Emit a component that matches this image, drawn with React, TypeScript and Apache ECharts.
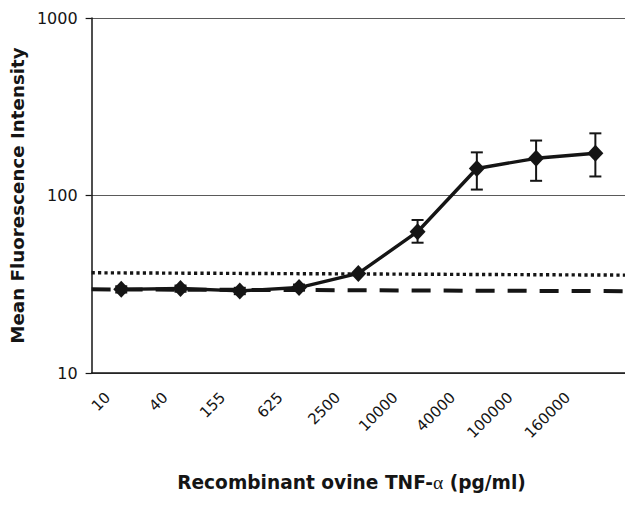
import React, { useEffect, useRef } from "react";
import * as echarts from "echarts";

const categories = ["10", "40", "155", "625", "2500", "10000", "40000", "100000", "160000"];
const meanValues = [29.6, 29.9, 29.0, 30.3, 36.4, 62.5, 142, 162, 173];
const errorLow = [28.4, 28.7, 27.8, 29.1, 36.4, 54.2, 108, 121, 128];
const errorHigh = [30.8, 31.1, 30.2, 31.5, 36.4, 72.8, 175, 204, 224];
const referenceX = [0, 1];
const dottedLine = [36.7, 35.6];
const dashedLine = [29.6, 28.9];
const yTicks = [10, 100, 1000];

const FONT = "'DejaVu Sans', Verdana, sans-serif";
const INK = "#151515";

export default function App() {
  const ref = useRef<HTMLDivElement>(null);
  useEffect(() => {
    if (!ref.current) return;
    const chart = echarts.init(ref.current, undefined, { renderer: "svg" });
    const option: any = {
      animation: false,
      backgroundColor: "#ffffff",
      grid: [
        { left: 91.6, width: 541.8, top: 18, height: 355 },
        { left: 79, width: 517.5, top: 18, height: 355 },
      ],
      xAxis: [
        {
          type: "category",
          gridIndex: 0,
          data: categories,
          boundaryGap: true,
          axisLine: { show: true, lineStyle: { color: INK, width: 1.5 } },
          axisTick: { show: false },
          axisLabel: { show: false },
          splitLine: { show: false },
          z: 5,
        },
        {
          type: "category",
          gridIndex: 1,
          data: categories,
          boundaryGap: true,
          axisLine: { show: false },
          axisTick: { show: false },
          axisLabel: {
            show: true,
            interval: 0,
            rotate: 45,
            margin: 22,
            fontSize: 15,
            fontFamily: FONT,
            color: INK,
          },
          splitLine: { show: false },
        },
        {
          type: "value",
          gridIndex: 0,
          min: 0,
          max: 1,
          show: false,
        },
      ],
      yAxis: [
        {
          type: "log",
          gridIndex: 0,
          logBase: 10,
          min: yTicks[0],
          max: yTicks[yTicks.length - 1],
          name: "Mean Fluorescence Intensity",
          nameLocation: "middle",
          nameRotate: 90,
          nameGap: 61,
          nameTextStyle: { fontSize: 18.3, fontWeight: "bold", fontFamily: FONT, color: INK },
          axisLine: { show: true, lineStyle: { color: INK, width: 1.5 } },
          axisTick: { show: true, inside: false, length: 6, lineStyle: { color: INK, width: 1.2 } },
          axisLabel: {
            fontSize: 16,
            fontFamily: FONT,
            color: INK,
            margin: 14,
            formatter: (v: number) => String(Math.round(v)),
          },
          minorTick: { show: false },
          splitLine: { show: true, lineStyle: { color: "#5a5a5a", width: 1 } },
        },
        { type: "value", gridIndex: 1, show: false },
      ],
      series: [
        {
          type: "line",
          name: "dotted",
          xAxisIndex: 2,
          yAxisIndex: 0,
          data: referenceX.map((x, i) => [x, dottedLine[i]]),
          showSymbol: false,
          symbol: "none",
          lineStyle: { color: INK, width: 3.4, type: [3.2, 3.2], cap: "butt" },
          z: 2,
        },
        {
          type: "line",
          name: "dashed",
          xAxisIndex: 2,
          yAxisIndex: 0,
          data: referenceX.map((x, i) => [x, dashedLine[i]]),
          showSymbol: false,
          symbol: "none",
          lineStyle: { color: INK, width: 4, type: [19, 13], cap: "butt" },
          z: 2,
        },
        {
          type: "custom",
          name: "error",
          xAxisIndex: 0,
          yAxisIndex: 0,
          data: categories.map((_, i) => [i, errorLow[i], errorHigh[i]]),
          encode: { x: 0, y: [1, 2] },
          renderItem: (params: any, api: any) => {
            const idx = api.value(0);
            const lo = api.coord([idx, api.value(1)]);
            const hi = api.coord([idx, api.value(2)]);
            const hw = 6;
            const style = { stroke: INK, lineWidth: 2, fill: "none" };
            return {
              type: "group",
              children: [
                { type: "line", shape: { x1: lo[0], y1: lo[1], x2: hi[0], y2: hi[1] }, style },
                { type: "line", shape: { x1: lo[0] - hw, y1: lo[1], x2: lo[0] + hw, y2: lo[1] }, style },
                { type: "line", shape: { x1: hi[0] - hw, y1: hi[1], x2: hi[0] + hw, y2: hi[1] }, style },
              ],
            };
          },
          z: 3,
        },
        {
          type: "line",
          name: "MFI",
          xAxisIndex: 0,
          yAxisIndex: 0,
          data: meanValues,
          symbol: "diamond",
          symbolSize: [16, 17],
          showSymbol: true,
          itemStyle: { color: INK },
          lineStyle: { color: INK, width: 3.4 },
          z: 4,
        },
      ],
      graphic: [
        {
          type: "text",
          x: 351.5,
          y: 482,
          style: {
            text: "{b|Recombinant ovine TNF-}{a|α}{b| (pg/ml)}",
            align: "center",
            verticalAlign: "middle",
            rich: {
              b: { fontSize: 18.6, fontWeight: "bold", fontFamily: FONT, fill: INK },
              a: { fontSize: 19.5, fontWeight: "normal", fontFamily: "'Liberation Serif', 'Times New Roman', serif", fill: INK },
            },
          },
        },
      ],
    };
    chart.setOption(option);
    return () => chart.dispose();
  }, []);
  return (
    <div
      ref={ref}
      style={{ position: "fixed", left: 0, top: 0, width: 625, height: 508, background: "#fff" }}
    />
  );
}
